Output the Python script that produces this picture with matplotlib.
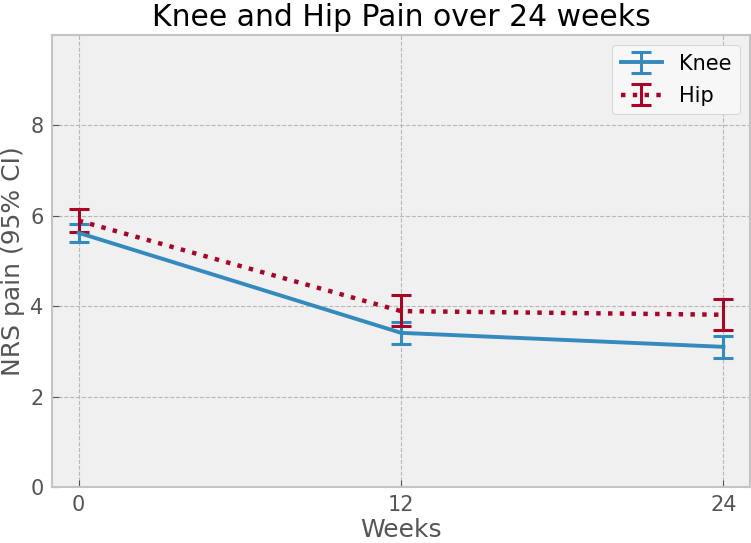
import numpy as np
import matplotlib
matplotlib.use('Agg')
import matplotlib.pyplot as plt

plt.style.use('bmh')

weeks = [0, 12, 24]
knee_mean = [5.62, 3.41, 3.10]
knee_lo = [5.41, 3.16, 2.86]
knee_hi = [5.82, 3.65, 3.34]
hip_mean = [5.89, 3.89, 3.81]
hip_lo = [5.65, 3.56, 3.47]
hip_hi = [6.15, 4.24, 4.15]

knee_err = [np.subtract(knee_mean, knee_lo), np.subtract(knee_hi, knee_mean)]
hip_err = [np.subtract(hip_mean, hip_lo), np.subtract(hip_hi, hip_mean)]

grey = '#555555'
plt.rcParams.update({
    'axes.facecolor': '#f0f0f0',
    'axes.edgecolor': '#c4c4c4',
    'axes.linewidth': 1.5,
    'grid.color': '#b8b8b8',
    'grid.linestyle': '--',
    'grid.linewidth': 0.8,
    'xtick.direction': 'in',
    'ytick.direction': 'in',
    'xtick.color': grey,
    'ytick.color': grey,
    'xtick.major.size': 5,
    'ytick.major.size': 5,
    'axes.labelcolor': grey,
})

fig = plt.figure(figsize=(7.51, 5.43), dpi=100)
ax = fig.add_axes([0.069, 0.103, 0.930, 0.833])

ax.errorbar(weeks, knee_mean, yerr=knee_err, color='#348ABD', lw=2.8,
            capsize=7.5, capthick=2.2, elinewidth=2.2, label='Knee')
ax.errorbar(weeks, hip_mean, yerr=hip_err, color='#A60628', lw=3.2, ls=':',
            capsize=7.5, capthick=2.2, elinewidth=2.2, label='Hip')

ax.set_xlim(-1, 25)
ax.set_ylim(0, 10)
ax.set_yticks(range(0, 10, 2))
ax.set_xticks(weeks)
ax.tick_params(labelsize=15, pad=6)
ax.set_xlabel('Weeks', fontsize=18, labelpad=2)
ax.set_ylabel('NRS pain (95% CI)', fontsize=18, labelpad=4)
ax.set_title('Knee and Hip Pain over 24 weeks', fontsize=21.5, pad=6)
leg = ax.legend(fontsize=15, loc='upper right', facecolor='#f7f7f7',
                edgecolor='#cccccc', framealpha=1, labelspacing=0.6)

fig.savefig('out.png')
